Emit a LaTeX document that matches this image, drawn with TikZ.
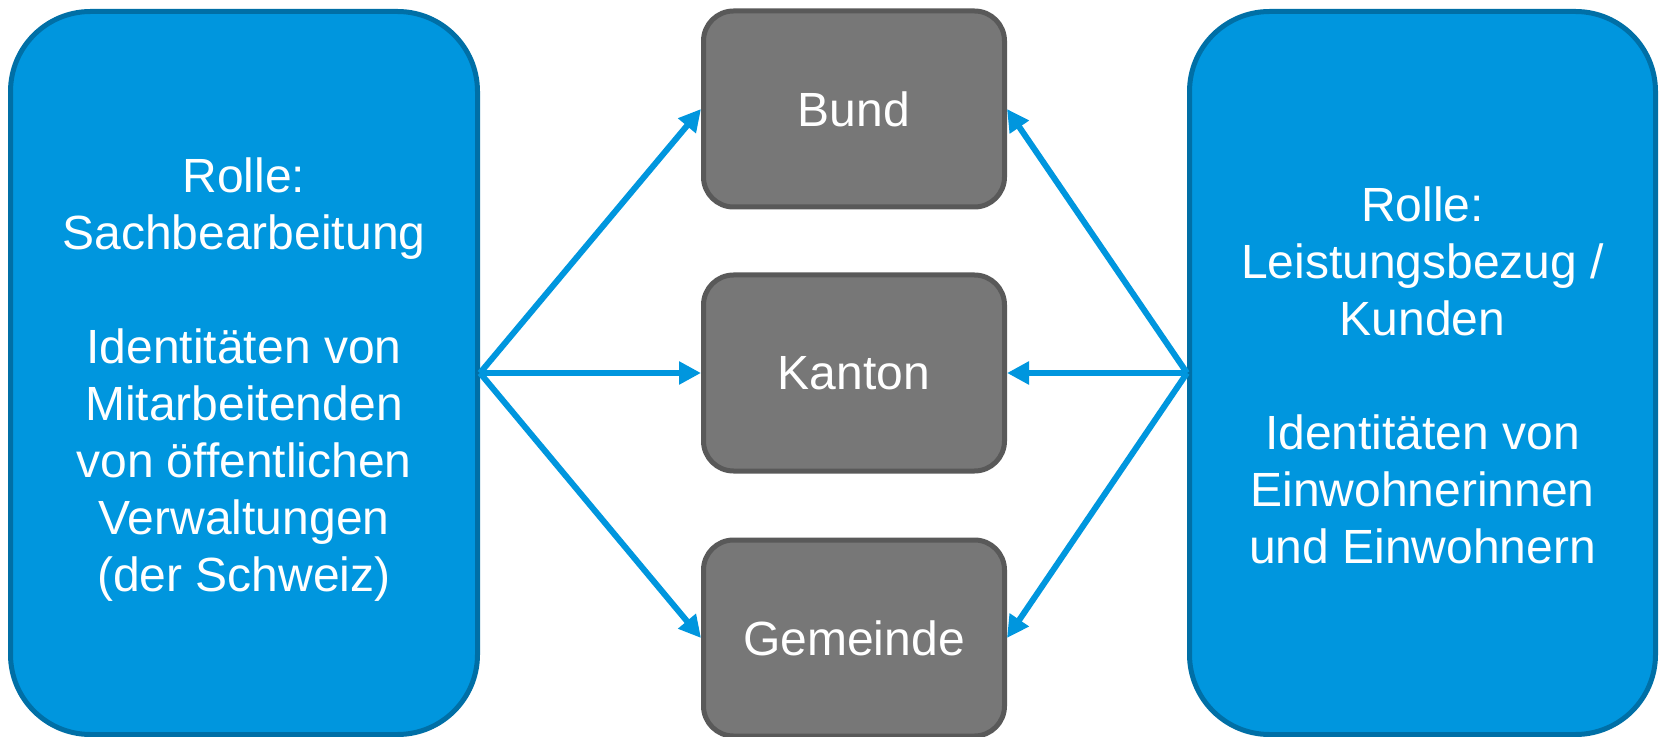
\documentclass[tikz,border=0pt]{standalone}
\usepackage{fontspec}
\setmainfont{Liberation Sans}
\usetikzlibrary{arrows.meta}
\definecolor{cblue}{RGB}{0,150,222}
\definecolor{cblueline}{RGB}{0,111,166}
\definecolor{cgray}{RGB}{119,119,119}
\definecolor{cgrayline}{RGB}{89,89,89}
\begin{document}
\begin{tikzpicture}[x=0.5pt,y=-0.5pt,
 rolebox/.style={draw=cblueline, fill=cblue, line width=2.5pt, rounded corners=40pt,
   minimum height=361.5pt, inner sep=0pt},
 roletext/.style={text=white, align=center, inner sep=0pt,
   font=\fontsize{24}{28.5}\selectfont},
 levelbox/.style={draw=cgrayline, fill=cgray, line width=2.5pt, rounded corners=15pt,
   minimum width=150.5pt, minimum height=98pt, text=white,
   font=\fontsize{24}{28.3}\selectfont},
 link/.style={draw=cblue, line width=3pt, -{Triangle[length=11pt,width=11pt]}}]
\useasboundingbox (0,0) rectangle (1659,737);

\node[rolebox, minimum width=233.5pt] (L) at (244,373) {};
\node[roletext] (Lt) at ([yshift=-3.5pt]L.center)
  {Rolle:\\Sachbearbeitung\\[28.5pt]Identitäten von\\Mitarbeitenden\\von öffentlichen\\Verwaltungen\\(der Schweiz)};
\node[rolebox, minimum width=233pt] (R) at (1422.5,373) {};
\node[roletext] (Rt) at ([yshift=-1pt]R.center)
  {Rolle:\\Leistungsbezug /\\Kunden\\[28.5pt]Identitäten von\\Einwohnerinnen\\und Einwohnern};

\node[levelbox] (B) at (854,109) {Bund};
\node[levelbox] (K) at (854,373) {Kanton};
\node[levelbox] (G) at (854,638) {Gemeinde};

\draw[link] (L.east) -- (B.west);
\draw[link] (L.east) -- (K.west);
\draw[link] (L.east) -- (G.west);
\draw[link] (R.west) -- (B.east);
\draw[link] (R.west) -- (K.east);
\draw[link] (R.west) -- (G.east);
\end{tikzpicture}
\end{document}
